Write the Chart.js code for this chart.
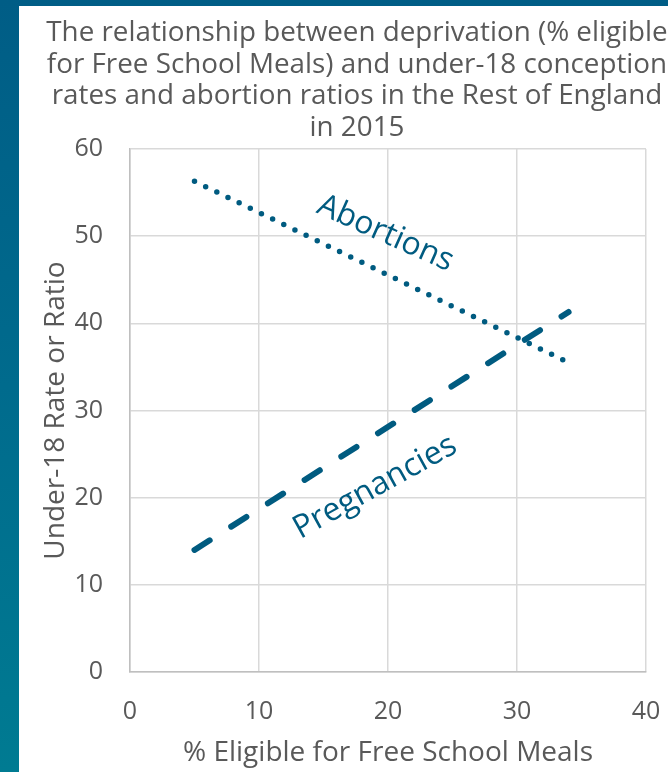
<!DOCTYPE html>
<html><head><meta charset="utf-8">
<script src="https://cdn.jsdelivr.net/npm/chart.js@4/dist/chart.umd.min.js"></script>
<style>
html,body{margin:0;padding:0;width:668px;height:772px;overflow:hidden;}
body{background:linear-gradient(180deg,#005d86 0%,#006b8d 50%,#007b92 100%);position:relative;}
#panel{position:absolute;left:19px;top:6px;width:649px;height:766px;background:#fff;overflow:hidden;}
#wrap{position:absolute;left:0;top:0;width:676px;height:766px;}
</style></head>
<body>
<div id="panel"><div id="wrap"><canvas id="c" width="676" height="766"></canvas></div></div>
<script>
const titleLines = ["The relationship between deprivation (% eligible","for Free School Meals) and under-18 conception","rates and abortion ratios in the Rest of England","in 2015"];
const xLabel = "% Eligible for Free School Meals";
const yLabel = "Under-18 Rate or Ratio";
const fsmPercent = [5, 34];
const abortionRatio = [56.3, 35.5];
const pregnancyRate = [14.0, 41.3];
const xTicks = [0, 10, 20, 30, 40];
const yTicks = [0, 10, 20, 30, 40, 50, 60];
const seriesNames = ["Abortions", "Pregnancies"];
const labelPos = [{x: 19.8, y: 50.3, angle: 24}, {x: 19.0, y: 21.2, angle: -29}];

const lineColor = "#005b80";
const textGrey = "#595959";
const FONT = "'Open Sans', sans-serif";

const labelPlugin = {
  id: 'seriesLabels',
  afterDatasetsDraw(chart) {
    const ctx = chart.ctx;
    const xs = chart.scales.x, ys = chart.scales.y;
    seriesNames.forEach((name, i) => {
      const p = labelPos[i];
      ctx.save();
      ctx.translate(xs.getPixelForValue(p.x), ys.getPixelForValue(p.y));
      ctx.rotate(p.angle * Math.PI / 180);
      ctx.font = "32px " + FONT;
      ctx.fillStyle = lineColor;
      ctx.textAlign = 'center';
      ctx.textBaseline = 'middle';
      ctx.fillText(name, 0, 0);
      ctx.restore();
    });
  }
};

new Chart(document.getElementById('c'), {
  type: 'scatter',
  data: {
    datasets: [
      {
        label: seriesNames[0],
        data: fsmPercent.map((x, i) => ({x, y: abortionRatio[i]})),
        showLine: true, borderColor: lineColor, borderWidth: 5.5,
        borderDash: [0, 12.4], borderCapStyle: 'round', pointRadius: 0
      },
      {
        label: seriesNames[1],
        data: fsmPercent.map((x, i) => ({x, y: pregnancyRate[i]})),
        showLine: true, borderColor: lineColor, borderWidth: 6,
        borderDash: [18, 25.5], borderCapStyle: 'round', pointRadius: 0
      }
    ]
  },
  options: {
    responsive: false, animation: false, devicePixelRatio: 1,
    layout: {padding: 0},
    plugins: {
      legend: {display: false}, tooltip: {enabled: false},
      title: {
        display: true, text: titleLines, color: textGrey,
        font: {family: FONT, size: 27.8, weight: 'normal', lineHeight: 1.133},
        padding: {top: 11.5, bottom: 5.5}
      }
    },
    scales: {
      x: {
        type: 'linear', min: 0, max: 40,
        afterBuildTicks: s => { s.ticks = xTicks.map(v => ({value: v})); },
        afterFit: s => { s.height = 100; },
        grid: {color: '#d9d9d9', lineWidth: 1.5, drawTicks: false},
        border: {color: '#bfbfbf', width: 1.5},
        ticks: {color: textGrey, padding: 24.6, font: {family: FONT, size: 25}},
        title: {display: true, text: xLabel, color: textGrey, font: {family: FONT, size: 28}, padding: {top: 0, bottom: 2.2}}
      },
      y: {
        type: 'linear', min: 0, max: 60,
        afterBuildTicks: s => { s.ticks = yTicks.map(v => ({value: v})); },
        afterFit: s => { s.width = 111; },
        grid: {color: '#d9d9d9', lineWidth: 1.5, drawTicks: false},
        border: {color: '#bfbfbf', width: 1.5},
        ticks: {color: textGrey, padding: 27, font: {family: FONT, size: 25}},
        title: {display: true, text: yLabel, color: textGrey, font: {family: FONT, size: 28}, padding: {top: 20, bottom: 0}}
      },
      yRightSpace: {
        type: 'linear', position: 'right', display: true, min: 0, max: 60,
        afterFit: s => { s.width = 49; },
        grid: {display: false, drawTicks: false},
        border: {display: false},
        ticks: {display: false}
      }
    }
  },
  plugins: [labelPlugin]
});
</script>
</body></html>
